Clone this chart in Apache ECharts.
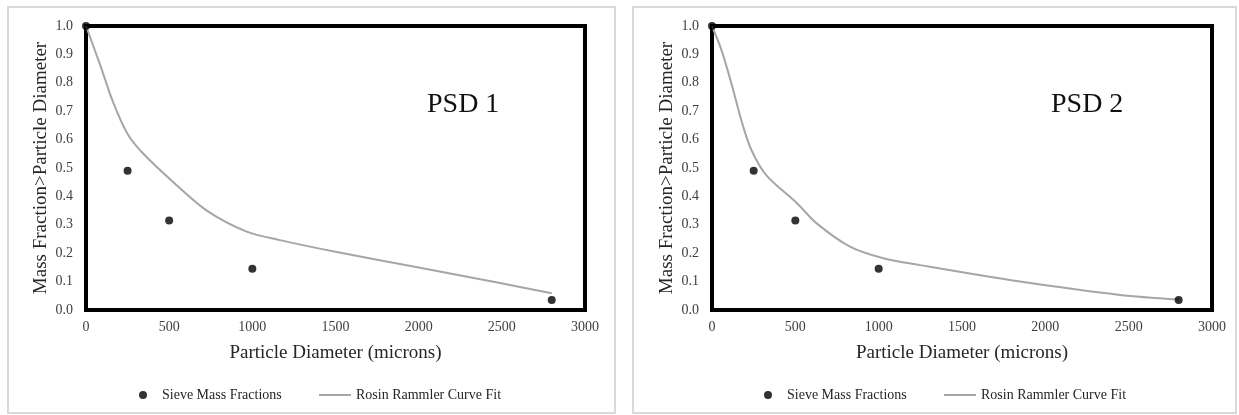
<!DOCTYPE html>
<html>
<head>
<meta charset="utf-8">
<script src="https://cdn.jsdelivr.net/npm/echarts@6/dist/echarts.min.js"></script>
<style>
  html, body { margin: 0; padding: 0; background: #ffffff; }
  #chart { width: 1239px; height: 415px; }
</style>
</head>
<body>
<div id="chart"></div>
<script>
// Sieve diameters (microns) and measured mass fraction retained above each size
const sieveDiameters = [0, 250, 500, 1000, 2800];
const sieveFractions = [1.0, 0.49, 0.315, 0.145, 0.035];

// Rosin-Rammler fitted curve, PSD 1
const fit1Diameters = [0, 84, 164, 250, 345, 525, 726, 966, 1166, 1500, 2000, 2489, 2800];
const fit1Fractions = [1.0, 0.865, 0.73, 0.62, 0.55, 0.45, 0.35, 0.276, 0.246, 0.205, 0.15, 0.095, 0.059];

// Rosin-Rammler fitted curve, PSD 2
const fit2Diameters = [0, 60, 120, 180, 235, 325, 510, 628, 828, 1028, 1248, 1848, 2448, 2800];
const fit2Fractions = [1.0, 0.91, 0.79, 0.66, 0.565, 0.475, 0.376, 0.305, 0.223, 0.182, 0.158, 0.10, 0.053, 0.037];

const panelLabels = ['PSD 1', 'PSD 2'];
const seriesNames = ['Sieve Mass Fractions', 'Rosin Rammler Curve Fit'];
const xAxisName = 'Particle Diameter (microns)';
const yAxisName = 'Mass Fraction>Particle Diameter';

const pairs = (xs, ys) => xs.map((x, i) => [x, ys[i]]);

const serif = '"Liberation Serif", "DejaVu Serif", serif';
const tickColor = '#404040';
const titleColor = '#262626';
const fitColor = '#a6a6a6';

// Horizontal offset of the second panel relative to the first
const shift = 625;
const grids = [
  { left: 86, top: 26, width: 499, height: 284 },
  { left: 86 + 626, top: 26, width: 500, height: 284 }
];

function makeXAxis(idx) {
  return {
    type: 'value', gridIndex: idx, min: 0, max: 3000, interval: 500,
    name: xAxisName, nameLocation: 'middle', nameGap: 34,
    nameTextStyle: { fontFamily: serif, fontSize: 19, color: titleColor },
    axisLine: { show: false }, axisTick: { show: false }, splitLine: { show: false },
    axisLabel: { fontFamily: serif, fontSize: 14, color: tickColor, margin: 10,
                 formatter: v => String(v) }
  };
}
function makeYAxis(idx) {
  return {
    type: 'value', gridIndex: idx, min: 0, max: 1, interval: 0.1,
    name: yAxisName, nameLocation: 'middle', nameGap: 35, nameRotate: 90,
    nameTextStyle: { fontFamily: serif, fontSize: 19, color: titleColor },
    axisLine: { show: false }, axisTick: { show: false }, splitLine: { show: false },
    axisLabel: { fontFamily: serif, fontSize: 14, color: tickColor, margin: 13,
                 formatter: v => v.toFixed(1) }
  };
}
const legendText = { fontFamily: serif, fontSize: 14, color: titleColor };
function makeLegends(offset) {
  return [
    {
      left: 134 + offset, top: 383, itemWidth: 28, itemHeight: 8, selectedMode: false,
      textStyle: legendText,
      data: [{ name: seriesNames[0], icon: 'circle', itemStyle: { color: '#000' } }]
    },
    {
      left: 314 + offset, top: 383, itemWidth: 32, itemHeight: 8, selectedMode: false,
      textStyle: legendText,
      data: [{ name: seriesNames[1], icon: 'path://M0,0H32V2H0Z', itemStyle: { color: fitColor } }]
    }
  ];
}
function scatterSeries(idx) {
  return {
    name: seriesNames[0], type: 'scatter', xAxisIndex: idx, yAxisIndex: idx,
    data: pairs(sieveDiameters, sieveFractions), symbolSize: 8, clip: false,
    itemStyle: { color: '#000' }, z: 3
  };
}
function fitSeries(idx, xs, ys) {
  return {
    name: seriesNames[1], type: 'line', xAxisIndex: idx, yAxisIndex: idx,
    data: pairs(xs, ys), smooth: 0.3, symbol: 'none', clip: false,
    lineStyle: { color: fitColor, width: 2 }, itemStyle: { color: fitColor }, z: 2
  };
}

const chart = echarts.init(document.getElementById('chart'), null, { renderer: 'canvas' });
chart.setOption({
  backgroundColor: '#ffffff',
  animation: false,
  grid: grids.map(g => Object.assign({ show: true, borderColor: '#000', borderWidth: 4,
                                       backgroundColor: 'transparent', containLabel: false }, g)),
  xAxis: [makeXAxis(0), makeXAxis(1)],
  yAxis: [makeYAxis(0), makeYAxis(1)],
  legend: makeLegends(0).concat(makeLegends(shift)),
  series: [
    scatterSeries(0), fitSeries(0, fit1Diameters, fit1Fractions),
    scatterSeries(1), fitSeries(1, fit2Diameters, fit2Fractions)
  ],
  graphic: [
    { type: 'rect', shape: { x: 8, y: 7, width: 607, height: 406 }, silent: true, z: -10,
      style: { fill: 'transparent', stroke: '#d9d9d9', lineWidth: 2 } },
    { type: 'rect', shape: { x: 633, y: 7, width: 603, height: 406 }, silent: true, z: -10,
      style: { fill: 'transparent', stroke: '#d9d9d9', lineWidth: 2 } },
    { type: 'text', x: 427, y: 105, silent: true,
      style: { text: panelLabels[0], font: '28px ' + serif, fill: '#111', verticalAlign: 'middle' } },
    { type: 'text', x: 427 + 624, y: 105, silent: true,
      style: { text: panelLabels[1], font: '28px ' + serif, fill: '#111', verticalAlign: 'middle' } }
  ]
});
</script>
</body>
</html>
